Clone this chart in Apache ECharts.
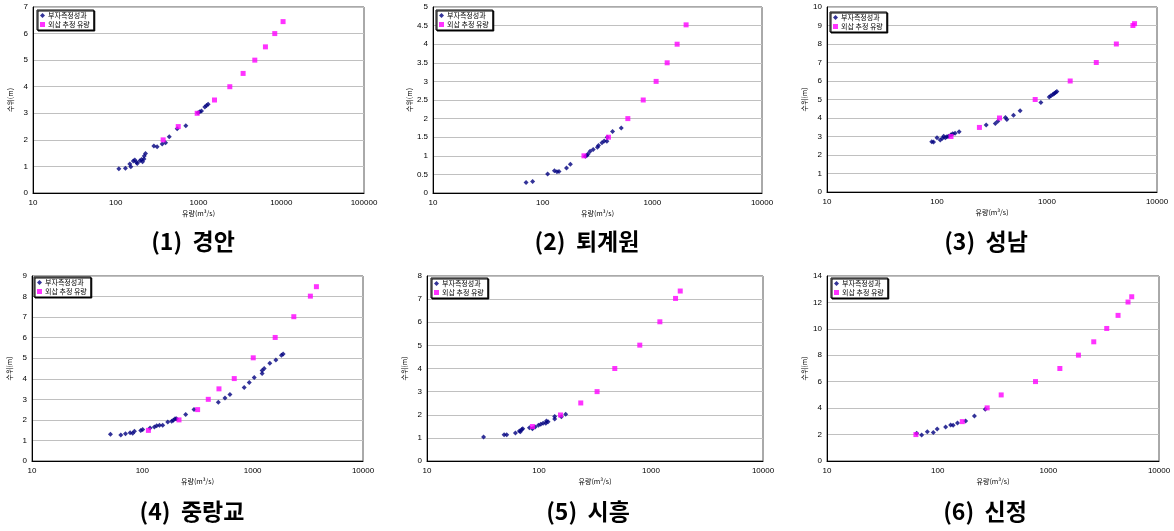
<!DOCTYPE html>
<html><head><meta charset="utf-8">
<script src="https://cdn.jsdelivr.net/npm/echarts@6/dist/echarts.min.js"></script>
<style>html,body{margin:0;padding:0;background:#fff}#c{width:1174px;height:531px}</style>
</head><body><div id="c"></div>
<script>
// ---- data: [discharge m3/s, stage m] ----
const titles = ['(1)  경안', '(2)  퇴계원', '(3)  성남', '(4)  중랑교', '(5)  시흥', '(6)  신정'];
const seriesNames = ['부자측정성과', '외삽 추정 유량'];
const xAxisName = '유량(m³/s)';
const yAxisName = '수위(m)';

const gyeonganMeasured = [[109,0.91],[131,0.93],[148,1.09],[152,0.99],[163,1.2],[170,1.24],[178,1.16],[182,1.11],[196,1.21],[205,1.26],[211,1.18],[219,1.28],[221,1.39],[229,1.49],[289,1.77],[316,1.74],[364,1.84],[400,1.89],[443,2.12],[553,2.42],[703,2.53],[990,3.02],[1037,3.06],[1087,3.09],[1192,3.24],[1250,3.29],[1308,3.34]];
const gyeonganExtrap = [[374,2.0],[569,2.5],[964,3.0],[1560,3.5],[2390,4.0],[3460,4.5],[4790,5.0],[6440,5.5],[8350,6.0],[10520,6.45]];

const toegyewonMeasured = [[70.6,0.28],[81,0.31],[111,0.51],[128,0.6],[135,0.57],[141,0.58],[165,0.67],[179,0.77],[245,0.99],[253,1.01],[259,1.05],[271,1.12],[289,1.17],[316,1.23],[323,1.28],[347,1.35],[364,1.4],[385,1.39],[388,1.5],[434,1.65],[521,1.75]];
const toegyewonExtrap = [[238,1.0],[398,1.5],[598,2.0],[826,2.5],[1083,3.0],[1365,3.5],[1683,4.0],[2032,4.52]];

const seongnamMeasured = [[89.6,2.72],[93,2.7],[100,2.93],[107,2.81],[112,2.9],[115,3.02],[119,2.93],[123,2.99],[127,3.02],[134,3.09],[139,3.15],[146,3.17],[159,3.26],[280,3.62],[339,3.7],[357,3.83],[419,4.03],[432,3.92],[496,4.15],[570,4.39],[880,4.84],[1048,5.14],[1085,5.2],[1131,5.27],[1162,5.32],[1197,5.38],[1230,5.43]];
const seongnamExtrap = [[134,3.0],[243,3.49],[370,4.0],[781,5.0],[1625,6.0],[2806,7.0],[4270,8.0],[6040,9.0],[6250,9.1]];

const jungnanggyoMeasured = [[51.4,1.3],[63.8,1.27],[70.4,1.32],[77.5,1.38],[81.8,1.35],[84.8,1.45],[96.8,1.48],[100.7,1.53],[117.5,1.61],[128.5,1.66],[135,1.71],[143,1.74],[153,1.74],[170,1.9],[184.5,1.93],[191,1.98],[198,2.06],[204,2.06],[247,2.26],[294,2.5],[488,2.86],[561,3.07],[622,3.23],[838,3.57],[931,3.82],[1033,4.06],[1219,4.26],[1219,4.4],[1271,4.5],[1431,4.76],[1623,4.91],[1824,5.15],[1889,5.21]];
const jungnanggyoExtrap = [[113.5,1.49],[215,2.0],[317,2.5],[396,3.0],[495,3.51],[681,4.01],[1012,5.02],[1600,6.01],[2360,7.02],[3334,8.02],[3782,8.48]];

const siheungMeasured = [[32,1.04],[48.8,1.13],[51.5,1.14],[61.6,1.21],[66.8,1.3],[68.2,1.26],[70.1,1.36],[71.6,1.4],[82.2,1.44],[87.4,1.4],[92.3,1.47],[98.9,1.55],[103.7,1.59],[108.9,1.63],[115,1.63],[116.5,1.73],[120.5,1.7],[138,1.82],[138,1.92],[158.5,1.91],[173,2.02]];
const siheungExtrap = [[87.4,1.49],[155.5,1.99],[236,2.51],[330,3.0],[475,4.0],[794,5.01],[1200,6.02],[1656,7.03],[1824,7.35]];

const sinjeongMeasured = [[64.6,2.1],[71.6,1.97],[80.6,2.22],[91.3,2.15],[99,2.43],[118,2.58],[131,2.73],[138,2.7],[151,2.88],[179,3.03],[215,3.41],[269,3.92]];
const sinjeongExtrap = [[63.6,2.0],[167,2.98],[280,4.02],[375,5.0],[766,6.01],[1271,7.0],[1871,8.01],[2573,9.02],[3371,10.03],[4266,11.02],[5250,12.03],[5670,12.43]];

const measuredSets = [gyeonganMeasured, toegyewonMeasured, seongnamMeasured, jungnanggyoMeasured, siheungMeasured, sinjeongMeasured];
const extrapSets = [gyeonganExtrap, toegyewonExtrap, seongnamExtrap, jungnanggyoExtrap, siheungExtrap, sinjeongExtrap];
const xMaxes = [100000, 10000, 10000, 10000, 10000, 10000];
const yMaxes = [7, 5, 10, 9, 8, 14];
const yIntervals = [1, 0.5, 1, 1, 1, 2];

// ---- layout ----
const grids = [
  {left: 33, top: 7, width: 331, height: 186},
  {left: 433, top: 7, width: 329, height: 186},
  {left: 827, top: 7, width: 330, height: 185},
  {left: 32, top: 276, width: 331, height: 185},
  {left: 427, top: 276, width: 336, height: 185},
  {left: 827, top: 276, width: 332, height: 185}
];
const legendPos = [[37,10],[436,10],[830,12],[34,277],[431,278],[831,278]];
const titlePos = [[193,241],[587,241],[986,241],[192,511],[588,511],[985,511]];

const FONT = '"Liberation Sans", "Noto Sans CJK KR", sans-serif';
const KFONT = '"Noto Sans CJK KR", sans-serif';

const option = {
  animation: false,
  textStyle: {fontFamily: FONT},
  grid: grids.map(g => Object.assign({show: true, borderColor: '#555', borderWidth: 1, backgroundColor: '#fff'}, g)),
  xAxis: grids.map((g, i) => ({
    type: 'log', logBase: 10, min: 10, max: xMaxes[i], gridIndex: i,
    name: xAxisName, nameLocation: 'middle', nameGap: 17,
    nameTextStyle: {fontSize: 7, color: '#000', fontFamily: KFONT},
    axisLine: {lineStyle: {color: '#000', width: 1}},
    axisTick: {show: false},
    splitLine: {show: false},
    minorTick: {show: false},
    axisLabel: {fontSize: 8, color: '#000', margin: 6, formatter: v => String(Math.round(v))}
  })),
  yAxis: grids.map((g, i) => ({
    type: 'value', min: 0, max: yMaxes[i], interval: yIntervals[i], gridIndex: i,
    name: yAxisName, nameLocation: 'middle', nameGap: 19, nameRotate: 90,
    nameTextStyle: {fontSize: 7, color: '#000', fontFamily: KFONT},
    axisLine: {show: true, lineStyle: {color: '#000', width: 1}},
    axisTick: {show: false},
    splitLine: {show: true, lineStyle: {color: '#c0c0c0', width: 1}},
    axisLabel: {fontSize: 8, color: '#000', margin: 5}
  })),
  legend: legendPos.map(p => ({
    left: p[0], top: p[1], orient: 'vertical',
    data: [{name: seriesNames[0], icon: 'diamond'}, {name: seriesNames[1], icon: 'rect'}],
    itemWidth: 5, itemHeight: 5, itemGap: 2,
    padding: [2, 4, 2, 3],
    borderColor: '#000', borderWidth: 1, backgroundColor: '#fff',
    shadowColor: '#000', shadowOffsetX: 1, shadowOffsetY: 1, shadowBlur: 0,
    textStyle: {fontSize: 7, color: '#000', fontFamily: KFONT, padding: [0, 0, 0, -2]},
    selectedMode: false
  })),
  series: [],
  graphic: titlePos.map((p, i) => ({
    type: 'text', x: p[0], y: p[1],
    style: {text: titles[i], font: 'bold 23px ' + KFONT, fill: '#000', textAlign: 'center', textVerticalAlign: 'middle'}
  }))
};

measuredSets.forEach((d, i) => {
  option.series.push({
    name: seriesNames[0], type: 'scatter', xAxisIndex: i, yAxisIndex: i,
    data: d, symbol: 'diamond', symbolSize: 5,
    itemStyle: {color: '#000080'}, z: 3
  });
});
extrapSets.forEach((d, i) => {
  option.series.push({
    name: seriesNames[1], type: 'scatter', xAxisIndex: i, yAxisIndex: i,
    data: d, symbol: 'rect', symbolSize: 5,
    itemStyle: {color: '#ff00ff'}, z: 4
  });
});

const chart = echarts.init(document.getElementById('c'), null, {renderer: 'canvas'});
chart.setOption(option);
</script>
</body></html>
